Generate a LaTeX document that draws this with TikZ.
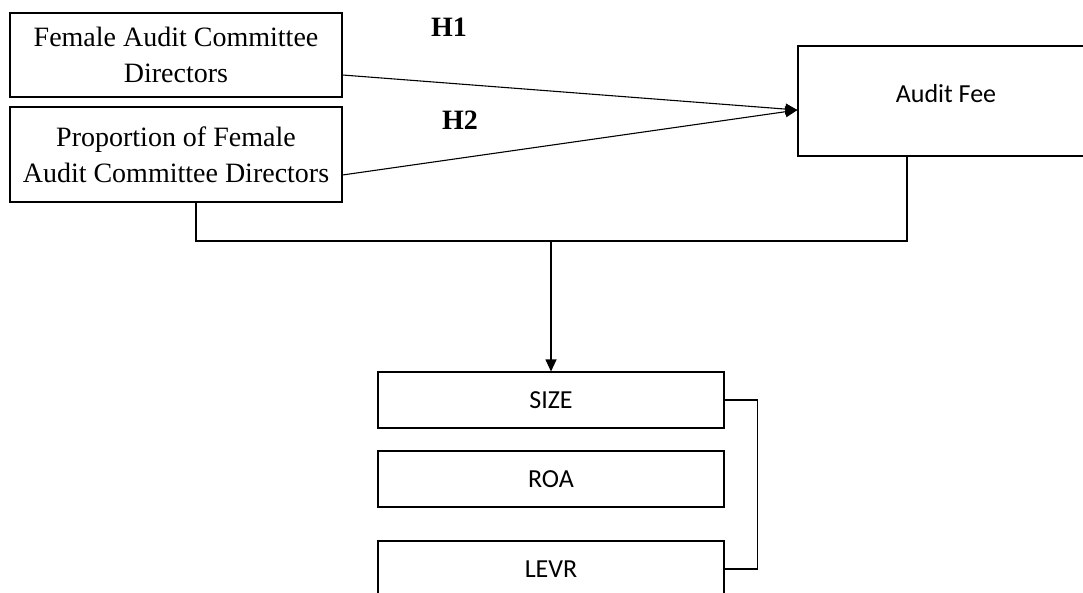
\documentclass[tikz,border=0pt]{standalone}
\usepackage{fontspec}
\setmainfont{Liberation Serif}
\newfontfamily\calibri{Carlito}
\usepackage{tikz}
\usetikzlibrary{arrows.meta, calc}

\begin{document}
\begin{tikzpicture}[
        x=1pt, y=-1pt,
        box/.style={draw=black, line width=1.1pt, inner sep=0pt, align=center, font=\fontsize{28}{36}\selectfont},
        varbox/.style={draw=black, line width=1.1pt, inner sep=0pt, align=center, font=\calibri\fontsize{26}{30}\selectfont},
        hyp/.style={font=\fontsize{28}{30}\selectfont\bfseries},
        arr/.style={-{Triangle[length=12pt, width=11pt]}, line width=1.1pt, black},
        link/.style={line width=1.1pt, black}
    ]
        \clip (0, 0) rectangle (1083, 592);
        \node[box, minimum width=332pt, minimum height=84pt] (fadirs) at (176, 55) {Female Audit Committee\\Directors};
        \node[box, minimum width=332pt, minimum height=95pt] (pfadirs) at (176, 154.5) {Proportion of Female\\Audit Committee Directors};
        \node[varbox, minimum width=296pt, minimum height=110pt] (fee) at (946, 101) {\raisebox{15pt}{Audit Fee}};
        \node[varbox, minimum width=346pt, minimum height=56pt] (size) at (551, 400) {SIZE};
        \node[varbox, minimum width=346pt, minimum height=56pt] (roa) at (551, 479) {ROA};
        \node[varbox, minimum width=346pt, minimum height=56pt] (levr) at (551, 569) {LEVR};
        \node[hyp] (h1) at (449, 27) {H1};
        \node[hyp] (h2) at (460, 120) {H2};
        \coordinate (mid) at (551, 241);

        \draw[arr] ([yshift=-20pt]fadirs.east) -- ([yshift=-9pt]fee.west);
        \draw[arr] ([yshift=-20.5pt]pfadirs.east) -- ([yshift=-9pt]fee.west);
        \draw[link] ([xshift=20pt]pfadirs.south) |- (mid) -| ([xshift=-39pt]fee.south);
        \draw[arr] (mid) -- (size.north);
        \draw[link] (size.east) -- ++(33, 0) |- (levr.east);
    \end{tikzpicture}
\end{document}
